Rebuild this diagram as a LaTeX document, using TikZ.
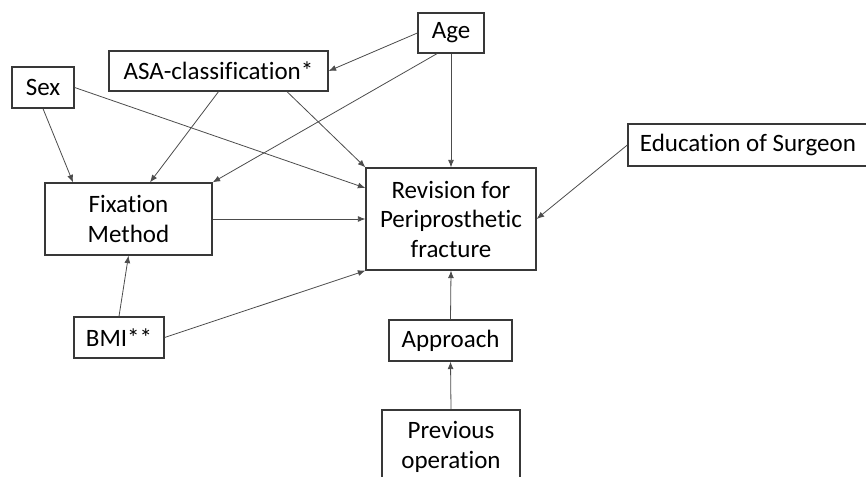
\documentclass[tikz,border=0pt]{standalone}
\usepackage{fontspec}
\setmainfont{Carlito}[Ligatures=NoCommon]
\usetikzlibrary{arrows.meta,calc}
\begin{document}
\begin{tikzpicture}[x=1pt,y=-1pt,
  box/.style={draw=black!78,line width=1.3pt,fill=white,inner sep=0pt,align=center,
    font=\fontsize{25}{29.5}\selectfont,text=black},
  arr/.style={draw=black!70,line width=0.8pt,-{Latex[length=7.5pt,width=6pt]}}]
\useasboundingbox (0,0) rectangle (866,476);
\node[box,minimum width=66pt,minimum height=40pt] (age) at (451,33) {Age};
\node[box,minimum width=219pt,minimum height=40pt] (asa) at (218.5,71) {ASA-classification*};
\node[box,minimum width=62pt,minimum height=41pt] (sex) at (43,87.5) {Sex};
\node[box,minimum width=240pt,minimum height=42pt] (edu) at (748,145) {Education of Surgeon};
\node[box,minimum width=167pt,minimum height=72pt] (fix) at (128.5,219) {Fixation\\Method};
\node[box,minimum width=170pt,minimum height=102pt] (rev) at (451,219) {Revision for\\Periprosthetic\\fracture};
\node[box,minimum width=90pt,minimum height=41pt] (bmi) at (119,337.5) {BMI**};
\node[box,minimum width=123pt,minimum height=41pt] (app) at (450.5,340.5) {Approach};
\node[box,minimum width=138pt,minimum height=74pt] (prev) at (451,447) {Previous\\operation};

\draw[arr] (age.west) -- (asa.east);
\draw[arr] ([xshift=-14pt]age.south) -- (fix.north east);
\draw[arr] (age.south) -- (rev.north);
\draw[arr] (asa.south) -- ([xshift=21.5pt]fix.north);
\draw[arr] ([xshift=68.5pt]asa.south) -- (rev.north west);
\draw[arr] (sex.south) -- ([xshift=-55.5pt]fix.north);
\draw[arr] (sex.east) -- ([yshift=31pt]rev.west);
\draw[arr] (fix.east) -- (rev.west);
\draw[arr] (bmi.north) -- (fix.south);
\draw[arr] (bmi.east) -- (rev.south west);
\draw[arr] (edu.west) -- (rev.east);
\draw[arr] (app.north) -- (rev.south);
\draw[arr] (prev.north) -- (app.south);
\end{tikzpicture}
\end{document}
